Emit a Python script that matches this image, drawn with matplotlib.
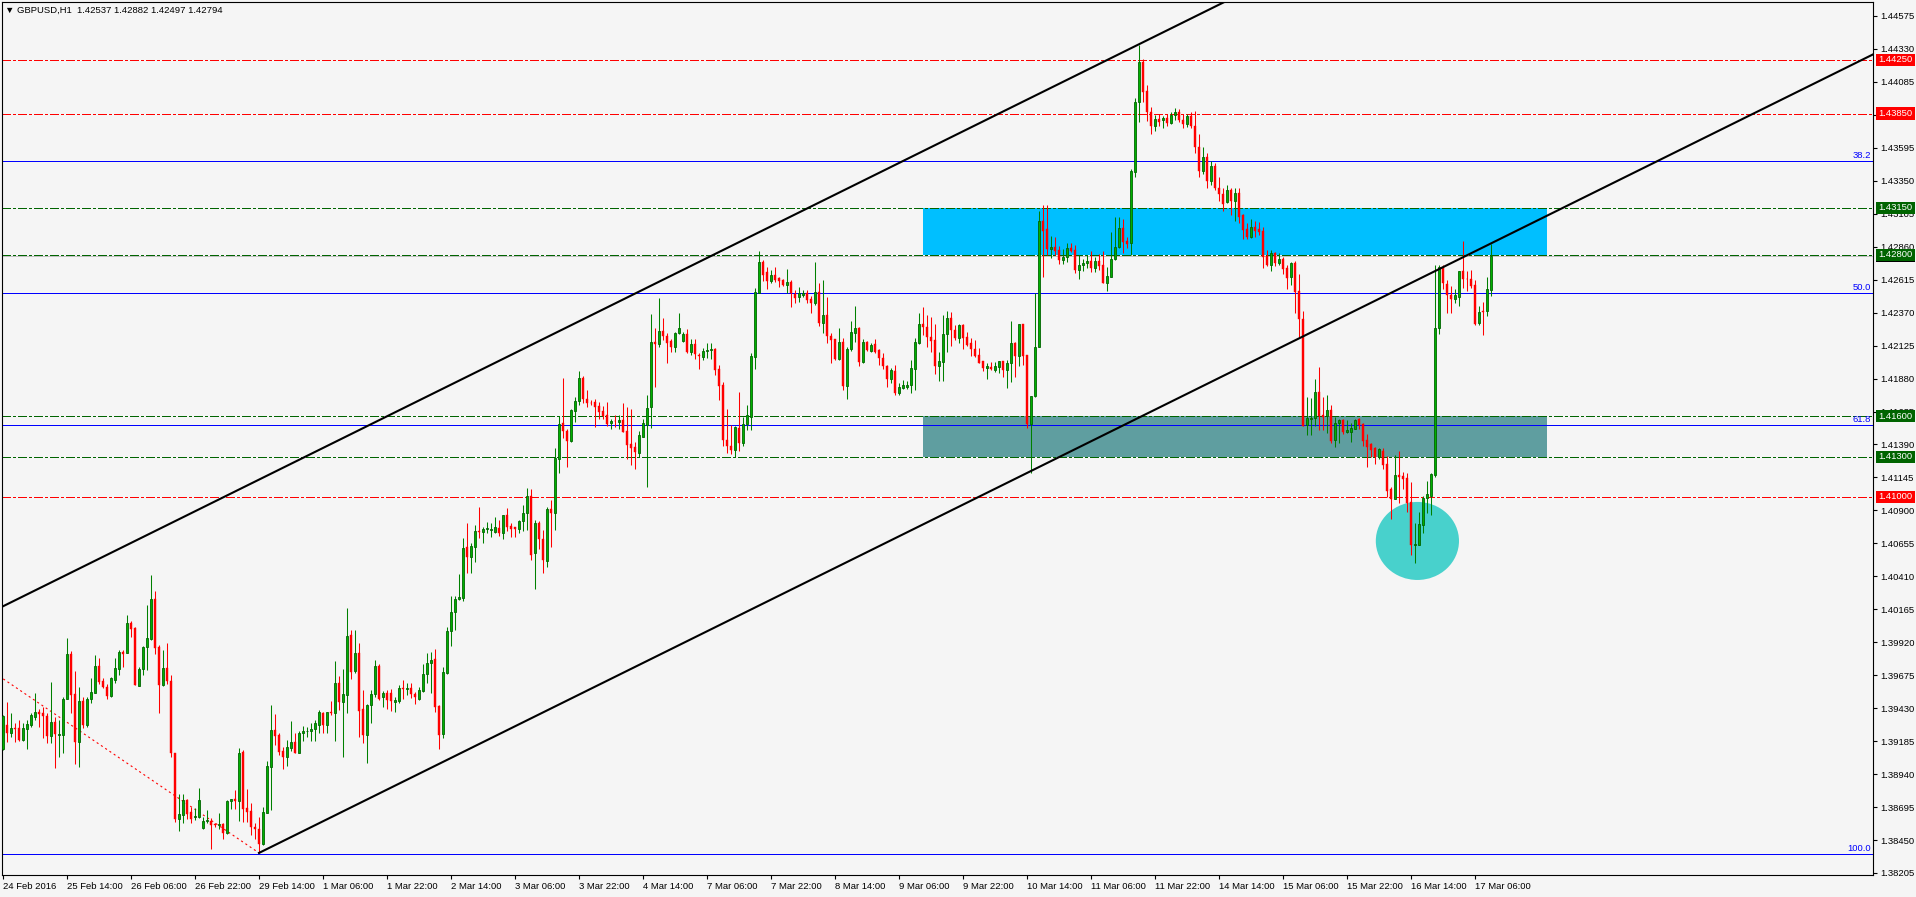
import numpy as np
import matplotlib
matplotlib.use('Agg')
import matplotlib.pyplot as plt
from matplotlib.patches import Rectangle, Ellipse
from matplotlib.transforms import blended_transform_factory

plt.rcParams['font.family'] = ['Liberation Sans', 'DejaVu Sans']
plt.rcParams['lines.scale_dashes'] = False

# GBPUSD H1 candles (bar 0 = 24 Feb 22:00)
opens = [
    1.39124, 1.39308, 1.39243, 1.39283, 1.39283, 1.39194, 1.39273, 1.39303, 1.39367, 1.39402,
    1.39392, 1.39372, 1.39226, 1.39328, 1.39229, 1.39234, 1.39496, 1.39833, 1.39536, 1.39181,
    1.39484, 1.39308, 1.39496, 1.39546, 1.39744, 1.39635, 1.39588, 1.39521, 1.39640, 1.39724,
    1.39848, 1.39843, 1.40066, 1.40026, 1.39598, 1.39724, 1.39883, 1.39945, 1.40240, 1.39883,
    1.39605, 1.39729, 1.39630, 1.39100, 1.38604, 1.38639, 1.38748, 1.38659, 1.38619, 1.38624,
    1.38540, 1.38589, 1.38594, 1.38564, 1.38560, 1.38569, 1.38500, 1.38738, 1.38758, 1.38743,
    1.39105, 1.38688, 1.38664, 1.38550, 1.38530, 1.38421, 1.38654, 1.38996, 1.39268, 1.39229,
    1.39115, 1.39070, 1.39134, 1.39179, 1.39100, 1.39248, 1.39258, 1.39263, 1.39273, 1.39308,
    1.39397, 1.39308, 1.39402, 1.39392, 1.39618, 1.39479, 1.39531, 1.39974, 1.39704, 1.39841,
    1.39427, 1.39234, 1.39452, 1.39536, 1.39744, 1.39511, 1.39541, 1.39545, 1.39478, 1.39485,
    1.39577, 1.39569, 1.39577, 1.39535, 1.39500, 1.39559, 1.39683, 1.39763, 1.39795, 1.39446,
    1.39235, 1.39693, 1.40001, 1.40144, 1.40238, 1.40248, 1.40625, 1.40551, 1.40630, 1.40749,
    1.40739, 1.40759, 1.40754, 1.40742, 1.40769, 1.40729, 1.40863, 1.40784, 1.40774, 1.40764,
    1.40818, 1.40878, 1.41007, 1.40580, 1.40803, 1.40689, 1.40526, 1.40912, 1.40878, 1.41279,
    1.41547, 1.41487, 1.41418, 1.41641, 1.41710, 1.41884, 1.41730, 1.41700, 1.41705, 1.41676,
    1.41636, 1.41606, 1.41547, 1.41564, 1.41559, 1.41572, 1.41487, 1.41393, 1.41373, 1.41329,
    1.41448, 1.41537, 1.41666, 1.42152, 1.42139, 1.42233, 1.42199, 1.42159, 1.42117, 1.42221,
    1.42162, 1.42209, 1.42080, 1.42137, 1.42055, 1.42043, 1.42085, 1.42090, 1.42100, 1.41949,
    1.41832, 1.41420, 1.41380, 1.41350, 1.41510, 1.41400, 1.41542, 1.41597, 1.42043, 1.42518,
    1.42746, 1.42672, 1.42608, 1.42650, 1.42628, 1.42613, 1.42573, 1.42600, 1.42509, 1.42489,
    1.42499, 1.42514, 1.42471, 1.42444, 1.42523, 1.42295, 1.42352, 1.42196, 1.42177, 1.42023,
    1.42152, 1.41827, 1.42100, 1.42221, 1.42256, 1.42006, 1.42152, 1.42087, 1.42137, 1.42092,
    1.42033, 1.41973, 1.41874, 1.41936, 1.41770, 1.41807, 1.41820, 1.41832, 1.41954, 1.42147,
    1.42286, 1.42266, 1.42187, 1.42167, 1.41976, 1.42006, 1.42209, 1.42333, 1.42241, 1.42184,
    1.42278, 1.42189, 1.42142, 1.42100, 1.42055, 1.42011, 1.41956, 1.41969, 1.41944, 1.41969,
    1.42008, 1.41944, 1.41993, 1.42144, 1.42050, 1.42286, 1.42055, 1.41542, 1.41750, 1.42112,
    1.43051, 1.42992, 1.42843, 1.42856, 1.42836, 1.42764, 1.42781, 1.42848, 1.42836, 1.42687,
    1.42722, 1.42737, 1.42754, 1.42702, 1.42752, 1.42722, 1.42593, 1.42638, 1.42769, 1.42856,
    1.42999, 1.42903, 1.42885, 1.43416, 1.43936, 1.44233, 1.44018, 1.43864, 1.43760, 1.43810,
    1.43800, 1.43815, 1.43780, 1.43840, 1.43860, 1.43800, 1.43770, 1.43830, 1.43760, 1.43600,
    1.43420, 1.43530, 1.43350, 1.43460, 1.43300, 1.43250, 1.43190, 1.43280, 1.43200, 1.43260,
    1.43095, 1.42989, 1.42929, 1.43004, 1.42989, 1.42974, 1.42791, 1.42721, 1.42811, 1.42736,
    1.42766, 1.42699, 1.42632, 1.42736, 1.42528, 1.42322, 1.41534, 1.41579, 1.41584, 1.41780,
    1.41609, 1.41601, 1.41646, 1.41423, 1.41547, 1.41572, 1.41485, 1.41480, 1.41507, 1.41581,
    1.41542, 1.41423, 1.41393, 1.41363, 1.41294, 1.41344, 1.41244, 1.41061, 1.40987, 1.41163,
    1.41155, 1.41140, 1.40962, 1.40640, 1.40645, 1.40793, 1.40989, 1.41007, 1.41160, 1.42253,
    1.42706, 1.42583, 1.42501, 1.42474, 1.42488, 1.42677, 1.42622, 1.42622, 1.42575, 1.42290,
    1.42382, 1.42379, 1.42537]
highs = [
    1.39377, 1.39476, 1.39395, 1.39318, 1.39343, 1.39318, 1.39343, 1.39392, 1.39541, 1.39427,
    1.39442, 1.39392, 1.39625, 1.39367, 1.39343, 1.39516, 1.39952, 1.39853, 1.39709, 1.39590,
    1.39516, 1.39516, 1.39655, 1.39826, 1.39803, 1.39652, 1.39610, 1.39665, 1.39801, 1.39863,
    1.39863, 1.40126, 1.40076, 1.40036, 1.39734, 1.39893, 1.40197, 1.40420, 1.40302, 1.39900,
    1.39863, 1.39917, 1.39677, 1.39100, 1.38792, 1.38792, 1.38758, 1.38698, 1.38686, 1.38837,
    1.38624, 1.38673, 1.38611, 1.38574, 1.38649, 1.38579, 1.38748, 1.38758, 1.38822, 1.39134,
    1.39120, 1.38827, 1.38723, 1.38574, 1.38619, 1.38698, 1.39040, 1.39457, 1.39387, 1.39243,
    1.39139, 1.39194, 1.39333, 1.39243, 1.39263, 1.39298, 1.39288, 1.39318, 1.39343, 1.39417,
    1.39402, 1.39405, 1.39486, 1.39779, 1.39670, 1.39724, 1.40175, 1.40012, 1.40012, 1.39917,
    1.39566, 1.39462, 1.39566, 1.39789, 1.39759, 1.39556, 1.39566, 1.39569, 1.39510, 1.39602,
    1.39639, 1.39619, 1.39614, 1.39552, 1.39590, 1.39758, 1.39842, 1.39849, 1.39869, 1.39453,
    1.39738, 1.40030, 1.40263, 1.40263, 1.40427, 1.40692, 1.40808, 1.40655, 1.40789, 1.40927,
    1.40774, 1.40813, 1.40803, 1.40848, 1.40828, 1.40865, 1.40915, 1.40803, 1.40779, 1.40828,
    1.40940, 1.41066, 1.41056, 1.40828, 1.40818, 1.40754, 1.40927, 1.40977, 1.41361, 1.41601,
    1.41884, 1.41502, 1.41656, 1.41740, 1.41936, 1.41899, 1.41795, 1.41720, 1.41730, 1.41705,
    1.41676, 1.41705, 1.41582, 1.41606, 1.41611, 1.41700, 1.41671, 1.41656, 1.41408, 1.41492,
    1.41577, 1.41757, 1.42360, 1.42253, 1.42476, 1.42328, 1.42216, 1.42172, 1.42229, 1.42365,
    1.42229, 1.42246, 1.42172, 1.42174, 1.42067, 1.42105, 1.42142, 1.42142, 1.42105, 1.41983,
    1.41857, 1.41656, 1.41535, 1.41530, 1.41780, 1.41592, 1.41686, 1.42067, 1.42551, 1.42828,
    1.42761, 1.42712, 1.42687, 1.42707, 1.42637, 1.42618, 1.42692, 1.42613, 1.42538, 1.42563,
    1.42538, 1.42538, 1.42494, 1.42746, 1.42593, 1.42613, 1.42489, 1.42216, 1.42177, 1.42253,
    1.42179, 1.42117, 1.42305, 1.42419, 1.42261, 1.42177, 1.42162, 1.42147, 1.42172, 1.42102,
    1.42067, 1.41981, 1.41956, 1.41981, 1.41845, 1.41869, 1.41864, 1.42018, 1.42179, 1.42365,
    1.42410, 1.42350, 1.42340, 1.42286, 1.42080, 1.42353, 1.42380, 1.42372, 1.42278, 1.42286,
    1.42286, 1.42229, 1.42184, 1.42167, 1.42105, 1.42013, 1.41993, 1.42001, 1.42006, 1.42013,
    1.42013, 1.42018, 1.42308, 1.42154, 1.42286, 1.42286, 1.42055, 1.41750, 1.42514, 1.43128,
    1.43170, 1.43170, 1.42940, 1.42935, 1.42868, 1.42841, 1.42885, 1.42890, 1.42876, 1.42796,
    1.42766, 1.42799, 1.42831, 1.42786, 1.42806, 1.42831, 1.42712, 1.42972, 1.43084, 1.43084,
    1.43069, 1.42935, 1.43436, 1.43963, 1.44360, 1.44253, 1.44062, 1.43900, 1.43840, 1.43850,
    1.43830, 1.43850, 1.43860, 1.43890, 1.43880, 1.43850, 1.43850, 1.43860, 1.43870, 1.43700,
    1.43600, 1.43560, 1.43500, 1.43480, 1.43380, 1.43300, 1.43320, 1.43300, 1.43300, 1.43300,
    1.43100, 1.43034, 1.43063, 1.43048, 1.43043, 1.43009, 1.42835, 1.42835, 1.42823, 1.42811,
    1.42786, 1.42724, 1.42749, 1.42756, 1.42657, 1.42384, 1.41740, 1.41735, 1.41874, 1.41968,
    1.41745, 1.41757, 1.41683, 1.41596, 1.41581, 1.41577, 1.41572, 1.41547, 1.41581, 1.41586,
    1.41552, 1.41467, 1.41398, 1.41368, 1.41363, 1.41361, 1.41304, 1.41076, 1.41311, 1.41344,
    1.41187, 1.41175, 1.41113, 1.40808, 1.40890, 1.41007, 1.41118, 1.41180, 1.42721, 1.42721,
    1.42721, 1.42612, 1.42568, 1.42548, 1.42682, 1.42902, 1.42677, 1.42687, 1.42612, 1.42419,
    1.42451, 1.42632, 1.42882]
lows = [
    1.39120, 1.39181, 1.39219, 1.39181, 1.39189, 1.39189, 1.39129, 1.39293, 1.39343, 1.39293,
    1.39209, 1.39169, 1.39174, 1.38986, 1.39070, 1.39095, 1.39496, 1.39392, 1.39015, 1.38996,
    1.39281, 1.39293, 1.39466, 1.39546, 1.39610, 1.39580, 1.39501, 1.39516, 1.39615, 1.39680,
    1.39739, 1.39838, 1.39962, 1.39600, 1.39598, 1.39680, 1.39714, 1.39937, 1.39833, 1.39397,
    1.39595, 1.39610, 1.39065, 1.38584, 1.38520, 1.38574, 1.38609, 1.38574, 1.38599, 1.38614,
    1.38535, 1.38574, 1.38386, 1.38550, 1.38535, 1.38460, 1.38495, 1.38683, 1.38683, 1.38589,
    1.38584, 1.38584, 1.38485, 1.38460, 1.38351, 1.38411, 1.38654, 1.38673, 1.39154, 1.39080,
    1.38981, 1.39001, 1.39115, 1.39100, 1.39100, 1.39184, 1.39214, 1.39184, 1.39184, 1.39248,
    1.39248, 1.39248, 1.39382, 1.39184, 1.39417, 1.39070, 1.39392, 1.39650, 1.39689, 1.39219,
    1.39169, 1.39025, 1.39318, 1.39516, 1.39491, 1.39442, 1.39427, 1.39411, 1.39403, 1.39465,
    1.39495, 1.39527, 1.39503, 1.39461, 1.39490, 1.39552, 1.39614, 1.39540, 1.39403, 1.39126,
    1.39205, 1.39681, 1.39892, 1.40010, 1.40233, 1.40229, 1.40437, 1.40437, 1.40518, 1.40692,
    1.40660, 1.40734, 1.40704, 1.40734, 1.40709, 1.40685, 1.40749, 1.40699, 1.40704, 1.40729,
    1.40749, 1.40754, 1.40531, 1.40313, 1.40610, 1.40437, 1.40481, 1.40630, 1.40754, 1.41175,
    1.41435, 1.41220, 1.41408, 1.41559, 1.41681, 1.41700, 1.41666, 1.41683, 1.41517, 1.41577,
    1.41582, 1.41527, 1.41507, 1.41522, 1.41507, 1.41485, 1.41279, 1.41237, 1.41210, 1.41294,
    1.41448, 1.41071, 1.41510, 1.41820, 1.42117, 1.42167, 1.41998, 1.42080, 1.42080, 1.42209,
    1.42154, 1.42067, 1.42055, 1.42023, 1.41953, 1.42018, 1.42030, 1.42023, 1.41909, 1.41721,
    1.41380, 1.41330, 1.41320, 1.41300, 1.41340, 1.41380, 1.41500, 1.41498, 1.41954, 1.42514,
    1.42608, 1.42543, 1.42588, 1.42600, 1.42563, 1.42568, 1.42514, 1.42414, 1.42439, 1.42452,
    1.42489, 1.42439, 1.42365, 1.42427, 1.42271, 1.42221, 1.42147, 1.41993, 1.42018, 1.42018,
    1.41795, 1.41726, 1.42085, 1.42154, 1.41973, 1.41998, 1.42085, 1.42080, 1.42067, 1.41981,
    1.41953, 1.41820, 1.41845, 1.41760, 1.41758, 1.41800, 1.41800, 1.41770, 1.41795, 1.42137,
    1.42201, 1.42117, 1.42080, 1.41912, 1.41864, 1.41864, 1.42080, 1.42122, 1.42167, 1.42147,
    1.42100, 1.42122, 1.42050, 1.42043, 1.41993, 1.41939, 1.41879, 1.41944, 1.41931, 1.41919,
    1.41894, 1.41812, 1.41857, 1.41889, 1.41974, 1.41981, 1.41510, 1.41176, 1.41741, 1.42112,
    1.42633, 1.42799, 1.42779, 1.42796, 1.42732, 1.42729, 1.42747, 1.42821, 1.42667, 1.42623,
    1.42680, 1.42702, 1.42672, 1.42672, 1.42687, 1.42588, 1.42534, 1.42633, 1.42762, 1.42848,
    1.42811, 1.42848, 1.42799, 1.43376, 1.43790, 1.43939, 1.43795, 1.43700, 1.43720, 1.43760,
    1.43740, 1.43760, 1.43770, 1.43800, 1.43790, 1.43740, 1.43750, 1.43740, 1.43560, 1.43380,
    1.43400, 1.43300, 1.43320, 1.43280, 1.43200, 1.43128, 1.43187, 1.43093, 1.43053, 1.43034,
    1.42920, 1.42920, 1.42924, 1.42934, 1.42949, 1.42701, 1.42716, 1.42682, 1.42716, 1.42721,
    1.42657, 1.42548, 1.42578, 1.42369, 1.42179, 1.41527, 1.41458, 1.41462, 1.41527, 1.41497,
    1.41497, 1.41472, 1.41398, 1.41373, 1.41403, 1.41467, 1.41477, 1.41410, 1.41502, 1.41507,
    1.41378, 1.41225, 1.41299, 1.41244, 1.41279, 1.41205, 1.41002, 1.40833, 1.40982, 1.40952,
    1.41056, 1.40890, 1.40570, 1.40511, 1.40640, 1.40734, 1.40878, 1.40868, 1.41150, 1.42211,
    1.42543, 1.42364, 1.42369, 1.42439, 1.42419, 1.42553, 1.42533, 1.42553, 1.42275, 1.42280,
    1.42206, 1.42345, 1.42497]
closes = [
    1.39372, 1.39243, 1.39283, 1.39278, 1.39194, 1.39283, 1.39313, 1.39377, 1.39402, 1.39387,
    1.39372, 1.39226, 1.39328, 1.39238, 1.39238, 1.39499, 1.39833, 1.39531, 1.39181, 1.39484,
    1.39308, 1.39496, 1.39551, 1.39744, 1.39623, 1.39585, 1.39521, 1.39655, 1.39729, 1.39848,
    1.39833, 1.40061, 1.40022, 1.39600, 1.39724, 1.39883, 1.39950, 1.40240, 1.39880, 1.39605,
    1.39729, 1.39630, 1.39095, 1.38609, 1.38644, 1.38748, 1.38644, 1.38604, 1.38629, 1.38748,
    1.38589, 1.38599, 1.38564, 1.38562, 1.38569, 1.38500, 1.38738, 1.38753, 1.38743, 1.39100,
    1.38683, 1.38659, 1.38550, 1.38530, 1.38421, 1.38659, 1.39001, 1.39268, 1.39224, 1.39105,
    1.39070, 1.39139, 1.39179, 1.39100, 1.39248, 1.39263, 1.39263, 1.39278, 1.39323, 1.39402,
    1.39308, 1.39402, 1.39392, 1.39618, 1.39479, 1.39536, 1.39967, 1.39699, 1.39841, 1.39412,
    1.39229, 1.39452, 1.39536, 1.39744, 1.39501, 1.39541, 1.39491, 1.39485, 1.39490, 1.39577,
    1.39569, 1.39582, 1.39532, 1.39510, 1.39564, 1.39683, 1.39763, 1.39787, 1.39441, 1.39230,
    1.39701, 1.40001, 1.40144, 1.40238, 1.40253, 1.40620, 1.40551, 1.40635, 1.40749, 1.40739,
    1.40764, 1.40769, 1.40759, 1.40774, 1.40729, 1.40863, 1.40779, 1.40759, 1.40764, 1.40823,
    1.40878, 1.41007, 1.40571, 1.40803, 1.40689, 1.40531, 1.40912, 1.40878, 1.41287, 1.41542,
    1.41487, 1.41418, 1.41646, 1.41713, 1.41884, 1.41730, 1.41700, 1.41695, 1.41671, 1.41631,
    1.41601, 1.41542, 1.41564, 1.41562, 1.41572, 1.41485, 1.41386, 1.41366, 1.41334, 1.41458,
    1.41547, 1.41661, 1.42154, 1.42139, 1.42233, 1.42199, 1.42147, 1.42117, 1.42216, 1.42253,
    1.42209, 1.42080, 1.42137, 1.42063, 1.42050, 1.42085, 1.42092, 1.42097, 1.41946, 1.41827,
    1.41420, 1.41380, 1.41350, 1.41517, 1.41400, 1.41542, 1.41607, 1.42048, 1.42523, 1.42746,
    1.42652, 1.42608, 1.42650, 1.42613, 1.42603, 1.42575, 1.42600, 1.42514, 1.42481, 1.42514,
    1.42514, 1.42464, 1.42444, 1.42523, 1.42295, 1.42350, 1.42196, 1.42167, 1.42023, 1.42152,
    1.41827, 1.42100, 1.42226, 1.42256, 1.42006, 1.42152, 1.42092, 1.42129, 1.42080, 1.42030,
    1.41973, 1.41874, 1.41944, 1.41770, 1.41820, 1.41832, 1.41832, 1.41956, 1.42152, 1.42286,
    1.42266, 1.42187, 1.42162, 1.41976, 1.42011, 1.42211, 1.42333, 1.42241, 1.42184, 1.42278,
    1.42184, 1.42130, 1.42097, 1.42050, 1.41993, 1.41956, 1.41974, 1.41949, 1.41974, 1.42008,
    1.41944, 1.41996, 1.42144, 1.42050, 1.42286, 1.42048, 1.41542, 1.41750, 1.42115, 1.43051,
    1.42980, 1.42843, 1.42856, 1.42831, 1.42762, 1.42781, 1.42848, 1.42831, 1.42690, 1.42724,
    1.42742, 1.42754, 1.42702, 1.42752, 1.42717, 1.42593, 1.42640, 1.42769, 1.42856, 1.42999,
    1.42895, 1.42883, 1.43421, 1.43936, 1.44233, 1.44013, 1.43864, 1.43760, 1.43810, 1.43790,
    1.43815, 1.43780, 1.43840, 1.43860, 1.43800, 1.43770, 1.43830, 1.43760, 1.43600, 1.43420,
    1.43530, 1.43350, 1.43460, 1.43300, 1.43250, 1.43180, 1.43280, 1.43200, 1.43260, 1.43083,
    1.42984, 1.42929, 1.43004, 1.42979, 1.42969, 1.42786, 1.42724, 1.42811, 1.42736, 1.42766,
    1.42697, 1.42630, 1.42736, 1.42523, 1.42325, 1.41527, 1.41584, 1.41584, 1.41780, 1.41601,
    1.41596, 1.41646, 1.41418, 1.41547, 1.41572, 1.41485, 1.41497, 1.41512, 1.41572, 1.41537,
    1.41418, 1.41368, 1.41348, 1.41294, 1.41353, 1.41237, 1.41046, 1.40987, 1.41160, 1.41150,
    1.41130, 1.40957, 1.40640, 1.40650, 1.40798, 1.40989, 1.41019, 1.41170, 1.42253, 1.42706,
    1.42592, 1.42498, 1.42474, 1.42501, 1.42677, 1.42617, 1.42617, 1.42568, 1.42285, 1.42374,
    1.42377, 1.42543, 1.42794]

time_labels = ['24 Feb 2016', '25 Feb 14:00', '26 Feb 06:00', '26 Feb 22:00', '29 Feb 14:00',
               '1 Mar 06:00', '1 Mar 22:00', '2 Mar 14:00', '3 Mar 06:00', '3 Mar 22:00',
               '4 Mar 14:00', '7 Mar 06:00', '7 Mar 22:00', '8 Mar 14:00', '9 Mar 06:00',
               '9 Mar 22:00', '10 Mar 14:00', '11 Mar 06:00', '11 Mar 22:00', '14 Mar 14:00',
               '15 Mar 06:00', '15 Mar 22:00', '16 Mar 14:00', '17 Mar 06:00']
price_ticks = [1.44575, 1.44330, 1.44085, 1.43840, 1.43595, 1.43350, 1.43105, 1.42860,
               1.42615, 1.42370, 1.42125, 1.41880, 1.41635, 1.41390, 1.41145, 1.40900,
               1.40655, 1.40410, 1.40165, 1.39920, 1.39675, 1.39430, 1.39185, 1.38940,
               1.38695, 1.38450, 1.38205]

red_levels = [1.44250, 1.43850, 1.41000]
green_levels = [1.43150, 1.42800, 1.41600, 1.41300]
fib_zero, fib_hundred = 1.46686, 1.38346
fib_pcts = [38.2, 50.0, 61.8, 100.0]
channel_low = [(64, 1.38354), (257, 1.41193)]
channel_top = (284, 1.44365)
red_ray = [(-1, 1.39669), (64, 1.38354)]
zone_bars = (230, 386)
supply_zone = (1.42800, 1.43150)
demand_zone = (1.41300, 1.41600)
circle_c = (353.6, 1.40673)
circle_size = (20.8, 0.0058)
bid = 1.42794
title = '\u25bc GBPUSD,H1  1.42537 1.42882 1.42497 1.42794'

BG = '#f5f5f5'
FS = 6.8
LW1 = 0.7  # one device pixel at 100 dpi

o = np.array(opens)
h = np.array(highs)
l = np.array(lows)
c = np.array(closes)
x = np.arange(len(o))
up = c >= o

fig = plt.figure(figsize=(19.16, 8.97), dpi=100, facecolor=BG)
ax = fig.add_axes([2 / 1916, 1 - 875 / 897, 1871 / 1916, 873 / 897])
ax.set_facecolor(BG)
ax.set_xlim(-0.25, 467.5)
ax.set_ylim(1.38190, 1.44679)

# zones and circle sit behind the candles
ax.add_patch(Rectangle((zone_bars[0], supply_zone[0]), zone_bars[1] - zone_bars[0],
                       supply_zone[1] - supply_zone[0], color='#00bfff', lw=0, zorder=1))
ax.add_patch(Rectangle((zone_bars[0], demand_zone[0]), zone_bars[1] - zone_bars[0],
                       demand_zone[1] - demand_zone[0], color='#5f9ea0', lw=0, zorder=1))
ax.add_patch(Ellipse(circle_c, circle_size[0], circle_size[1], color='#48d1cc', lw=0, zorder=1))

dashdot = (0, (5.8, 1.5, 1.5, 1.5))
for lv in red_levels:
    ax.axhline(lv, color='#ff0000', lw=LW1, ls=dashdot, zorder=2, antialiased=False)
for lv in green_levels:
    ax.axhline(lv, color='#006400', lw=LW1, ls=dashdot, zorder=2, antialiased=False)
ax.axhline(bid, color='#c0c0c0', lw=LW1, zorder=1.5, antialiased=False)

btrans = blended_transform_factory(ax.transAxes, ax.transData)
for pct in fib_pcts:
    lv = fib_zero - (fib_zero - fib_hundred) * pct / 100
    ax.axhline(lv, color='#0000ff', lw=LW1, zorder=2, antialiased=False)
    ax.text(1 - 2 / 1871, lv + 0.00008, '%.1f' % pct, transform=btrans, ha='right',
            va='bottom', color='#0000ff', fontsize=FS)

# candles
ax.vlines(x[up], l[up], h[up], color='#008000', lw=0.75, zorder=4)
ax.vlines(x[~up], l[~up], h[~up], color='#ff0000', lw=0.75, zorder=4)
ax.bar(x[up], np.maximum(c[up] - o[up], 0.00006), bottom=o[up], width=0.72,
       color='#00b000', edgecolor='#006400', lw=0.6, zorder=5)
ax.bar(x[~up], np.maximum(o[~up] - c[~up], 0.00006), bottom=c[~up], width=0.72,
       color='#ff0000', edgecolor='#ff0000', lw=0.3, zorder=5)

# channel and the red dotted line
(x1, y1), (x2, y2) = channel_low
slope = (y2 - y1) / (x2 - x1)
xr = np.array([x1, 470])
ax.plot(xr, y1 + slope * (xr - x1), color='black', lw=1.5, zorder=6)
xu = np.array([-1, 470])
ax.plot(xu, channel_top[1] + slope * (xu - channel_top[0]), color='black', lw=1.5, zorder=6)
ax.plot([p[0] for p in red_ray], [p[1] for p in red_ray], color='#ff0000', lw=0.8,
        ls=(0, (1.5, 2.2)), zorder=3)

# axes styling
for s in ax.spines.values():
    s.set_color('black')
    s.set_linewidth(0.8)
ax.set_xticks(np.arange(0, 16 * len(time_labels), 16))
ax.set_xticklabels(time_labels)
for t in ax.get_xticklabels():
    t.set_ha('left')
ax.tick_params(axis='x', direction='out', length=3, width=0.8, pad=2, labelsize=FS)
ax.yaxis.tick_right()
ax.set_yticks(price_ticks)
ax.set_yticklabels(['%.5f' % p for p in price_ticks])
ax.tick_params(axis='y', direction='out', length=3, width=0.8, pad=2, labelsize=FS)


def tag(price, color):
    ax.add_patch(Rectangle((1.0016, price - 0.00045), 0.0209, 0.0009, transform=btrans,
                           color=color, lw=0, clip_on=False, zorder=10))
    ax.text(1.012, price, '%.5f' % price, transform=btrans, ha='center', va='center',
            color='white', fontsize=FS, clip_on=False, zorder=11)


ax.add_patch(Rectangle((1.0016, bid - 0.00045), 0.0209, 0.0009, transform=btrans,
                       color='black', lw=0, clip_on=False, zorder=9))
for lv in red_levels:
    tag(lv, '#ff0000')
for lv in green_levels:
    tag(lv, '#006400')

fig.text(5 / 1916, 1 - 10 / 897, title, fontsize=FS, va='center', ha='left')

fig.savefig('out.png', dpi=100, facecolor=BG)
